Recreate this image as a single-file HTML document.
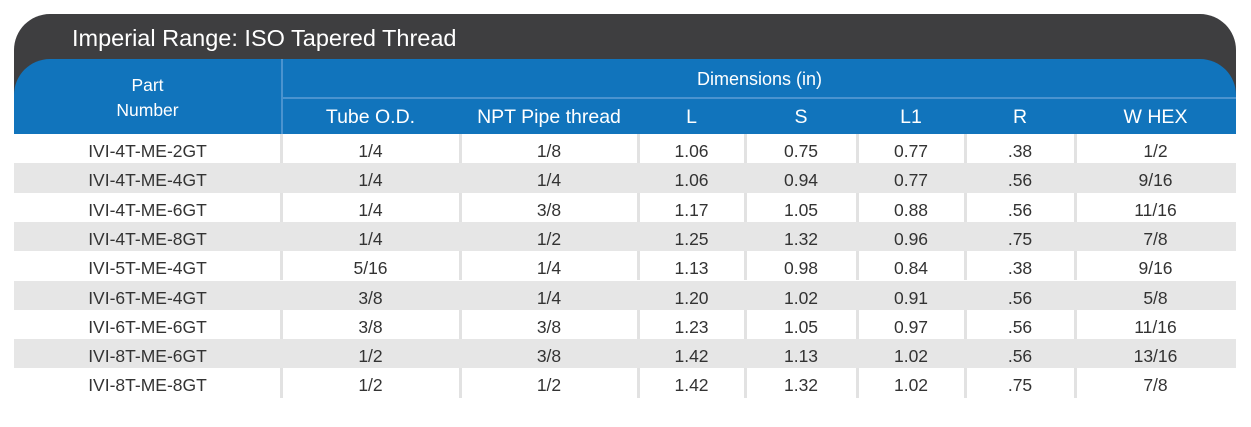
<!DOCTYPE html>
<html><head><style>
body{margin:0;width:1251px;height:427px;background:#fff;position:relative;overflow:hidden;font-family:"Liberation Sans",sans-serif;}
.a{position:absolute}
.t{position:absolute;text-align:center;font-size:17.5px;color:#333;line-height:29.3px;padding-top:3px;box-sizing:border-box;height:29.3px}
.h{position:absolute;text-align:center;color:#fff;font-size:19.5px}
</style></head><body>
<div class="a" style="left:14px;top:14px;width:1222px;height:120px;background:#3e3e40;border-radius:36px 36px 0 0"></div>
<div class="a" style="left:72px;top:23px;color:#fff;font-size:23.5px;line-height:30px">Imperial Range: ISO Tapered Thread</div>
<div class="a" style="left:14px;top:59px;width:1222px;height:75px;background:#1174bc;border-radius:36px 36px 0 0"></div>
<div class="a" style="left:281px;top:59px;width:2px;height:75px;background:#4a93cf"></div>
<div class="a" style="left:283px;top:97px;width:953px;height:2px;background:#4a93cf"></div>
<div class="h" style="left:14px;top:73px;width:267px;line-height:25px;font-size:17.5px">Part<br>Number</div>
<div class="h" style="left:283px;top:66px;width:953px;line-height:26px;font-size:18px">Dimensions (in)</div>
<div id="rows"></div>
<script>
var cols=[14,281,460,638,745,857,965,1075,1236];
var hd=["Tube O.D.","NPT Pipe thread","L","S","L1","R","W HEX"];
var h='';
for(var i=0;i<7;i++)h+='<div class="h" style="left:'+cols[i+1]+'px;top:104px;width:'+(cols[i+2]-cols[i+1])+'px;line-height:26px">'+hd[i]+'</div>';
var d=[["IVI-4T-ME-2GT","1/4","1/8","1.06","0.75","0.77",".38","1/2"],
["IVI-4T-ME-4GT","1/4","1/4","1.06","0.94","0.77",".56","9/16"],
["IVI-4T-ME-6GT","1/4","3/8","1.17","1.05","0.88",".56","11/16"],
["IVI-4T-ME-8GT","1/4","1/2","1.25","1.32","0.96",".75","7/8"],
["IVI-5T-ME-4GT","5/16","1/4","1.13","0.98","0.84",".38","9/16"],
["IVI-6T-ME-4GT","3/8","1/4","1.20","1.02","0.91",".56","5/8"],
["IVI-6T-ME-6GT","3/8","3/8","1.23","1.05","0.97",".56","11/16"],
["IVI-8T-ME-6GT","1/2","3/8","1.42","1.13","1.02",".56","13/16"],
["IVI-8T-ME-8GT","1/2","1/2","1.42","1.32","1.02",".75","7/8"]];
for(var r=0;r<9;r++){var y=134+r*29.3;
if(r%2==1)h+='<div class="a" style="left:14px;top:'+y+'px;width:1222px;height:29.3px;background:#e6e6e6"></div>';
else for(var c=1;c<8;c++)h+='<div class="a" style="left:'+(cols[c]-1)+'px;top:'+y+'px;width:3px;height:29.3px;background:#e2e2e2"></div>';
for(var c=0;c<8;c++)h+='<div class="t" style="left:'+cols[c]+'px;top:'+y+'px;width:'+(cols[c+1]-cols[c])+'px">'+d[r][c]+'</div>';}
document.getElementById('rows').innerHTML=h;
</script>
</body></html>
